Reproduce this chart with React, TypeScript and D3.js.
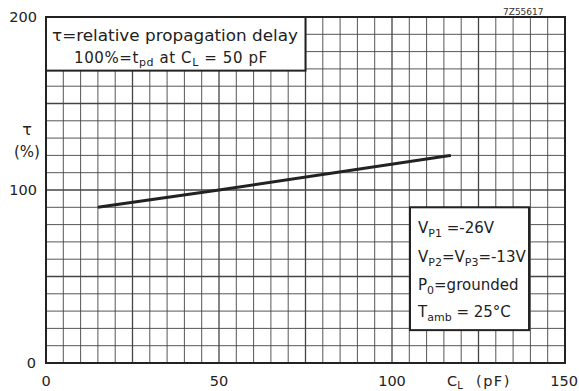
import React from "react";
import * as d3 from "d3";

const curveX = [15, 50, 117];
const curveY = [90, 100, 120];
const xTicks = [0, 50, 100, 150];
const yTicks = [0, 100, 200];
const xGrid = d3.range(5, 150, 5);
const yGrid = d3.range(10, 200, 10);

const W = 579, H = 391;
const M = { left: 46, right: 14, top: 17, bottom: 28 };

export default function App() {
  const x = d3.scaleLinear().domain([0, 150]).range([M.left, W - M.right]);
  const y = d3.scaleLinear().domain([0, 200]).range([H - M.bottom, M.top]);
  const pts = curveX.map((v, i) => [v, curveY[i]] as [number, number]);
  const line = d3.line<[number, number]>().x(d => x(d[0])).y(d => y(d[1])).curve(d3.curveMonotoneX);
  const font = "DejaVu Sans, sans-serif";
  const topBox = { x0: 0, x1: 75, y0: 169, y1: 200 };
  const botBox = { x0: 105.2, x1: 139.6, y0: 19, y1: 90 };
  return (
    <svg width={W} height={H} style={{ position: "absolute", left: 0, top: 0, background: "#fff" }} fontFamily={font}>
      <rect x={0} y={0} width={W} height={H} fill="#fff" />
      {xGrid.map(v => (
        <line key={"gx" + v} x1={x(v)} x2={x(v)} y1={y(0)} y2={y(200)} stroke="#444" strokeWidth={v % 25 === 0 ? 1.3 : 0.9} />
      ))}
      {yGrid.map(v => (
        <line key={"gy" + v} x1={x(0)} x2={x(150)} y1={y(v)} y2={y(v)} stroke="#444" strokeWidth={v % 50 === 0 ? 1.3 : 0.9} />
      ))}
      <rect x={x(0)} y={y(200)} width={x(150) - x(0)} height={y(0) - y(200)} fill="none" stroke="#222" strokeWidth={2} />
      <path d={line(pts) || ""} fill="none" stroke="#222" strokeWidth={3} />
      {/* top info box */}
      <rect x={x(topBox.x0)} y={y(topBox.y1)} width={x(topBox.x1) - x(topBox.x0)} height={y(topBox.y0) - y(topBox.y1)}
        fill="#fff" stroke="#222" strokeWidth={2} />
      <text x={52} y={41} fontSize={15} fill="#222" textLength={246} lengthAdjust="spacingAndGlyphs">τ=relative propagation delay</text>
      <text x={74} y={63} fontSize={15} fill="#222" letterSpacing={0.6}>
        100%=t<tspan fontSize={11} dy={3}>pd</tspan><tspan dy={-3}> at C</tspan><tspan fontSize={11} dy={3}>L</tspan><tspan dy={-3}> = 50 pF</tspan>
      </text>
      {/* bottom info box */}
      <rect x={x(botBox.x0)} y={y(botBox.y1)} width={x(botBox.x1) - x(botBox.x0)} height={y(botBox.y0) - y(botBox.y1)}
        fill="#fff" stroke="#222" strokeWidth={2} />
      <g fontSize={15} fill="#222">
        <text x={418} y={233}>V<tspan fontSize={11} dy={4}>P1</tspan><tspan dy={-4}> =-26V</tspan></text>
        <text x={418} y={262}>V<tspan fontSize={11} dy={4}>P2</tspan><tspan dy={-4}>=V</tspan><tspan fontSize={11} dy={4}>P3</tspan><tspan dy={-4}>=-13V</tspan></text>
        <text x={418} y={290}>P<tspan fontSize={11} dy={4}>0</tspan><tspan dy={-4}>=grounded</tspan></text>
        <text x={418} y={317}>T<tspan fontSize={11} dy={4}>amb</tspan><tspan dy={-4}> = 25°C</tspan></text>
      </g>
      {/* axis labels */}
      <g fontSize={14.5} fill="#222">
        {yTicks.map(v => (
          <text key={"yt" + v} x={v === 0 ? 36 : 37} y={y(v) + 5} textAnchor="end">{v}</text>
        ))}
        {xTicks.map(v => (
          <text key={"xt" + v} x={v === 150 ? 578 : x(v)} y={386} textAnchor={v === 150 ? "end" : "middle"}>{v}</text>
        ))}
        <text x={27} y={135} textAnchor="middle" fontSize={16}>τ</text>
        <text x={27} y={157} textAnchor="middle" fontSize={15}>(%)</text>
        <text x={447} y={386}>C<tspan fontSize={10} dy={3}>L</tspan></text>
        <text x={476} y={386} letterSpacing={1.5}>(pF)</text>
      </g>
      <text x={503} y={15} fontSize={9} fill="#333">7Z55617</text>
    </svg>
  );
}
